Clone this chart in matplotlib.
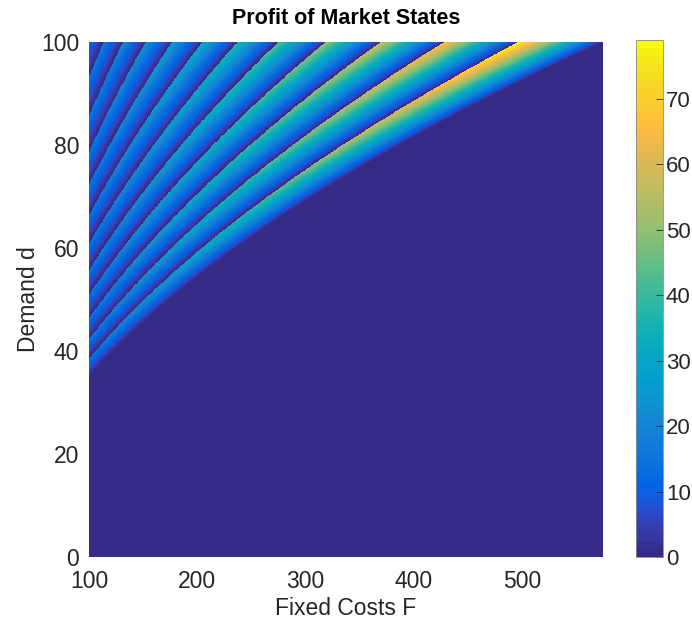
import numpy as np
import matplotlib
matplotlib.use("Agg")
import matplotlib.pyplot as plt
from matplotlib.colors import ListedColormap

# MATLAB "parula" colormap (64 entries)
PARULA = [
    [0.2081, 0.1663, 0.5292], [0.2116, 0.1898, 0.5777], [0.2123, 0.2138, 0.6270],
    [0.2081, 0.2386, 0.6771], [0.1959, 0.2645, 0.7279], [0.1707, 0.2919, 0.7792],
    [0.1253, 0.3242, 0.8303], [0.0591, 0.3598, 0.8683], [0.0117, 0.3875, 0.8820],
    [0.0060, 0.4086, 0.8828], [0.0165, 0.4266, 0.8786], [0.0329, 0.4430, 0.8720],
    [0.0498, 0.4586, 0.8641], [0.0629, 0.4737, 0.8554], [0.0723, 0.4887, 0.8467],
    [0.0779, 0.5040, 0.8384], [0.0793, 0.5200, 0.8312], [0.0749, 0.5375, 0.8263],
    [0.0641, 0.5570, 0.8240], [0.0488, 0.5772, 0.8228], [0.0343, 0.5966, 0.8199],
    [0.0265, 0.6137, 0.8135], [0.0239, 0.6287, 0.8038], [0.0231, 0.6418, 0.7913],
    [0.0228, 0.6535, 0.7768], [0.0267, 0.6642, 0.7607], [0.0384, 0.6743, 0.7436],
    [0.0590, 0.6838, 0.7254], [0.0843, 0.6928, 0.7062], [0.1133, 0.7015, 0.6859],
    [0.1453, 0.7098, 0.6646], [0.1801, 0.7177, 0.6424], [0.2178, 0.7250, 0.6193],
    [0.2586, 0.7317, 0.5954], [0.3022, 0.7376, 0.5712], [0.3482, 0.7424, 0.5473],
    [0.3953, 0.7459, 0.5244], [0.4420, 0.7481, 0.5033], [0.4871, 0.7491, 0.4840],
    [0.5300, 0.7491, 0.4661], [0.5709, 0.7485, 0.4494], [0.6099, 0.7473, 0.4337],
    [0.6473, 0.7456, 0.4188], [0.6834, 0.7435, 0.4044], [0.7184, 0.7411, 0.3905],
    [0.7525, 0.7384, 0.3768], [0.7858, 0.7356, 0.3633], [0.8185, 0.7327, 0.3498],
    [0.8507, 0.7299, 0.3360], [0.8824, 0.7274, 0.3217], [0.9139, 0.7258, 0.3063],
    [0.9450, 0.7261, 0.2886], [0.9739, 0.7314, 0.2666], [0.9938, 0.7455, 0.2403],
    [0.9990, 0.7653, 0.2164], [0.9955, 0.7861, 0.1967], [0.9880, 0.8066, 0.1794],
    [0.9789, 0.8271, 0.1633], [0.9697, 0.8481, 0.1475], [0.9626, 0.8705, 0.1309],
    [0.9589, 0.8949, 0.1132], [0.9598, 0.9218, 0.0948], [0.9661, 0.9514, 0.0755],
    [0.9763, 0.9831, 0.0538],
]
parula = ListedColormap(PARULA, name="parula")

# Parameter grid
fixed_costs = np.arange(100.0, 575.01, 0.5)   # F
demand = np.arange(0.0, 100.001, 0.1)         # d

# Market model parameters
profit_scale = 0.04625     # monopoly profit = scale * (d + offset)^2
demand_offset = 11.5
entry_ratio = 0.8626       # each additional firm scales per-firm gross profit

x_ticks = [100, 200, 300, 400, 500]
y_ticks = [0, 20, 40, 60, 80, 100]
cbar_ticks = [0, 10, 20, 30, 40, 50, 60, 70]

# Free-entry market state: largest number of firms that still covers F
F, D = np.meshgrid(fixed_costs, demand)
gross = profit_scale * (D + demand_offset) ** 2
rel = gross / F
n_firms = np.where(rel >= 1.0,
                   np.floor(np.log(np.maximum(rel, 1.0)) / -np.log(entry_ratio)) + 1,
                   0)
profit = np.where(n_firms >= 1, gross * entry_ratio ** (n_firms - 1) - F, 0.0)

plt.rcParams['font.family'] = ['Liberation Sans', 'DejaVu Sans']
text_color = '#262626'

fig = plt.figure(figsize=(6.92, 6.23), dpi=100)
ax = fig.add_axes([89/692, 66/623, 514/692, 515/623])
im = ax.imshow(profit, origin='lower', aspect='auto', cmap=parula,
               extent=[fixed_costs[0], fixed_costs[-1], demand[0], demand[-1]],
               interpolation='nearest', vmin=0, vmax=profit.max())
ax.set_xlim(fixed_costs[0], fixed_costs[-1])
ax.set_ylim(demand[0], demand[-1])
ax.set_xticks(x_ticks)
ax.set_yticks(y_ticks)
ax.tick_params(direction='in', length=0, labelsize=16.5, colors=text_color)
ax.tick_params(axis='x', pad=9)
ax.tick_params(axis='y', pad=7)
for s in ax.spines.values():
    s.set_visible(False)
ax.set_xlabel('Fixed Costs F', fontsize=16.5, color=text_color, labelpad=3)
ax.set_ylabel('Demand d', fontsize=16.5, color=text_color, labelpad=1)
ax.set_title('Profit of Market States', fontsize=15.5, fontweight='bold',
             color='black', pad=13)

cax = fig.add_axes([636/692, 66/623, 27/692, 517/623])
cb = fig.colorbar(im, cax=cax, ticks=cbar_ticks)
cb.outline.set_edgecolor('#8a8a8a')
cb.outline.set_linewidth(0.6)
cax.tick_params(direction='in', length=5, width=0.6, labelsize=16,
                colors=text_color, pad=2)

fig.savefig('out.png', dpi=100)
